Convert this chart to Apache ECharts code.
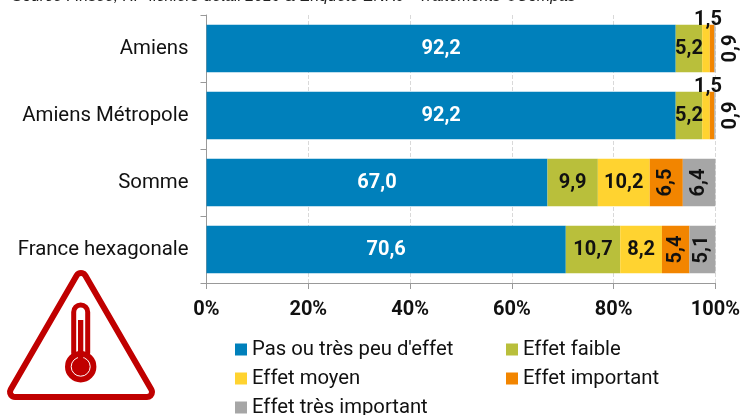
<!DOCTYPE html>
<html>
<head>
<meta charset="utf-8">
<title>Effet de la chaleur</title>
<style>
  html, body { margin: 0; padding: 0; background: #fff; }
  #chart { width: 743px; height: 415px; }
</style>
<script src="https://cdn.jsdelivr.net/npm/echarts@6/dist/echarts.min.js"></script>
</head>
<body>
<div id="chart"></div>
<script>
const categories = ['Amiens', 'Amiens Métropole', 'Somme', 'France hexagonale'];
const pasEffet = [92.2, 92.2, 67.0, 70.6];
const effetFaible = [5.2, 5.2, 9.9, 10.7];
const effetMoyen = [1.5, 1.5, 10.2, 8.2];
const effetImportant = [0.9, 0.9, 6.5, 5.4];
const effetTresImportant = [0.2, 0.2, 6.4, 5.1];
const sourceText = "Source : Insee, RP fichiers détail 2019 & Enquête ENRJ - Traitements ©Compas";

const font = 'Roboto';
const red = '#c00000';
const fmt = v => v.toFixed(1).replace('.', ',');

// label par défaut de chaque segment, avec les cas particuliers
function seriesData(values, special) {
  return values.map((v, i) => {
    let label = special ? special(v, i) : null;
    return label ? { value: v, label: label } : { value: v };
  });
}

function makeSeries(name, values, color, labelColor, special) {
  return {
    name: name,
    type: 'bar',
    stack: 'total',
    barWidth: 47.5,
    itemStyle: { color: color },
    label: {
      show: true,
      position: 'inside',
      color: labelColor,
      fontFamily: font,
      fontWeight: 'bold',
      fontSize: 20,
      formatter: p => fmt(p.value),
    },
    data: seriesData(values, special),
  };
}

function legendRow(name, left, top) {
  return {
    left: left, top: top, padding: 0, itemWidth: 12, itemHeight: 12, itemGap: 0,
    icon: 'rect', selectedMode: false,
    data: [name],
    textStyle: { color: '#111', fontFamily: font, fontSize: 20.3, padding: [0, 0, 0, 0] },
  };
}

const chart = echarts.init(document.getElementById('chart'));
chart.setOption({
  animation: false,
  backgroundColor: '#fff',
  grid: { left: 206.5, right: 27, top: 15, bottom: 132 },
  xAxis: {
    type: 'value',
    min: 0,
    max: 100,
    interval: 20,
    axisLine: { show: true, lineStyle: { color: '#999', width: 1 } },
    axisTick: { show: true, length: 6, lineStyle: { color: '#999' } },
    splitLine: { show: true, lineStyle: { type: 'dashed', color: '#d9d9d9' } },
    axisLabel: {
      color: '#111',
      fontFamily: font,
      fontWeight: 'bold',
      fontSize: 20,
      margin: 17,
      formatter: v => v + '%',
    },
  },
  yAxis: {
    type: 'category',
    inverse: true,
    data: categories,
    axisLine: { show: true, lineStyle: { color: '#999', width: 1 } },
    axisTick: { show: true, length: 6, lineStyle: { color: '#999' } },
    axisLabel: { color: '#111', fontFamily: font, fontSize: 20.4, margin: 18 },
  },
  legend: [
    legendRow('Pas ou très peu d\'effet', 235, 339.5),
    legendRow('Effet moyen', 235, 368.5),
    legendRow('Effet très important', 235, 397.5),
    legendRow('Effet faible', 506, 339.5),
    legendRow('Effet important', 506, 368.5),
  ],
  series: [
    makeSeries('Pas ou très peu d\'effet', pasEffet, '#0080bb', '#fff'),
    makeSeries('Effet faible', effetFaible, '#b9bf3b', '#111'),
    makeSeries('Effet moyen', effetMoyen, '#ffd330', '#111', (v, i) =>
      i < 2 ? { position: 'top', distance: -5, offset: [2, 0] } : null),
    makeSeries('Effet important', effetImportant, '#f28500', '#111', (v, i) =>
      i < 2 ? { rotate: 90, position: 'inside', offset: [0, 19] } : { rotate: 90 }),
    makeSeries('Effet très important', effetTresImportant, '#a6a6a6', '#111', (v, i) =>
      i < 2 ? { show: false } : { rotate: 90 }),
  ],
  graphic: [
    {
      type: 'text', silent: true,
      style: { x: 12, y: -11, text: sourceText, fill: '#222', font: 'italic 15.8px "Liberation Sans"' },
    },
    // picto thermomètre
    {
      type: 'group', silent: true,
      children: [
        { type: 'polygon', shape: { points: [[81, 278], [15, 392], [147, 392]] },
          style: { fill: red, stroke: red, lineWidth: 16, lineJoin: 'round' } },
        { type: 'polygon', shape: { points: [[81, 278], [15, 392], [147, 392]] },
          style: { fill: '#fff', stroke: '#fff', lineWidth: 4, lineJoin: 'round' } },
        { type: 'rect', shape: { x: 73.7, y: 305, width: 14, height: 55, r: 7 },
          style: { fill: '#fff', stroke: red, lineWidth: 5 } },
        { type: 'circle', shape: { cx: 80.7, cy: 366.7, r: 15.7 }, style: { fill: red } },
        { type: 'circle', shape: { cx: 80.7, cy: 366.7, r: 9.5 },
          style: { fill: red, stroke: '#fff', lineWidth: 1 } },
        { type: 'rect', shape: { x: 78, y: 320, width: 5.3, height: 40 }, style: { fill: red } },
      ],
    },
  ],
});
</script>
</body>
</html>
